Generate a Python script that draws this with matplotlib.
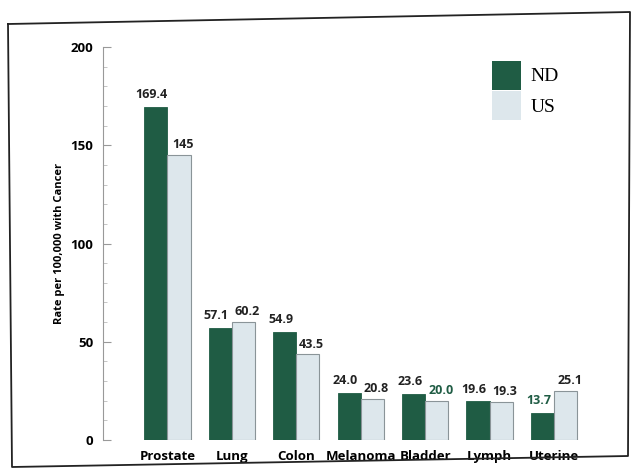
import matplotlib.pyplot as plt
import numpy as np
from matplotlib.lines import Line2D

categories = ["Prostate", "Lung", "Colon", "Melanoma", "Bladder", "Lymph", "Uterine"]
nd_values = [169.4, 57.1, 54.9, 24.0, 23.6, 19.6, 13.7]
us_values = [145, 60.2, 43.5, 20.8, 20.0, 19.3, 25.1]
nd_labels = ["169.4", "57.1", "54.9", "24.0", "23.6", "19.6", "13.7"]
us_labels = ["145", "60.2", "43.5", "20.8", "20.0", "19.3", "25.1"]

green = "#1f5c44"
light = "#dde7ec"
fam = ["Open Sans", "DejaVu Sans"]

fig = plt.figure(figsize=(6.39, 4.72), dpi=100)
ax = fig.add_axes([0.161, 0.068, 0.797, 0.832])

x = np.arange(len(categories))
w = 0.36
ax.bar(x - w / 2, nd_values, w, color=green, edgecolor=green, linewidth=0.6, label="ND")
ax.bar(x + w / 2, us_values, w, color=light, edgecolor="#8a9498", linewidth=0.8, label="US")

lab_font = dict(family=fam, fontsize=9, fontweight="bold")
for i in range(len(categories)):
    c1 = "#222222"
    ax.text(x[i] - w / 2 - 0.06, nd_values[i] + 3, nd_labels[i], ha="center", va="bottom",
            color=green if nd_labels[i] == "13.7" else c1, **lab_font)
    ax.text(x[i] + w / 2 + 0.06, us_values[i] + 2, us_labels[i], ha="center", va="bottom",
            color=green if us_labels[i] == "20.0" else c1, **lab_font)

ax.set_xlim(-1.0, 6.9)
ax.set_ylim(0, 200)
ax.set_yticks([0, 50, 100, 150, 200])
ax.set_yticks(np.arange(0, 201, 10), minor=True)
ax.tick_params(axis="y", direction="in", length=6, color="#999999", labelsize=9.5, pad=7)
ax.tick_params(axis="y", which="minor", direction="in", length=3, color="#bbbbbb")
for t in ax.get_yticklabels():
    t.set_fontfamily(fam)
    t.set_fontweight("bold")
ax.set_xticks(x)
ax.set_xticklabels(categories, fontfamily=fam, fontweight="bold", fontsize=9.5)
ax.tick_params(axis="x", length=0, pad=7)
for s in ["top", "right", "bottom"]:
    ax.spines[s].set_visible(False)
ax.spines["left"].set_color("#999999")
ax.set_ylabel("Rate per 100,000 with Cancer", fontfamily=fam, fontweight="bold",
              fontsize=8, labelpad=4)

leg = ax.legend(loc="upper right", bbox_to_anchor=(0.93, 1.01), frameon=False,
                prop=dict(family="Liberation Serif", size=14),
                handlelength=1.5, handleheight=1.9, labelspacing=0.1, handletextpad=0.5)
for h in leg.legend_handles:
    h.set_edgecolor("none")

# scanned page border
border = Line2D([8 / 639, 630 / 639, 628 / 639, 12 / 639, 8 / 639],
                [1 - 24 / 472, 1 - 12 / 472, 1 - 456 / 472, 1 - 467 / 472, 1 - 24 / 472],
                transform=fig.transFigure, color="#222222", linewidth=1.3)
fig.add_artist(border)

fig.savefig("out.png", dpi=100)
